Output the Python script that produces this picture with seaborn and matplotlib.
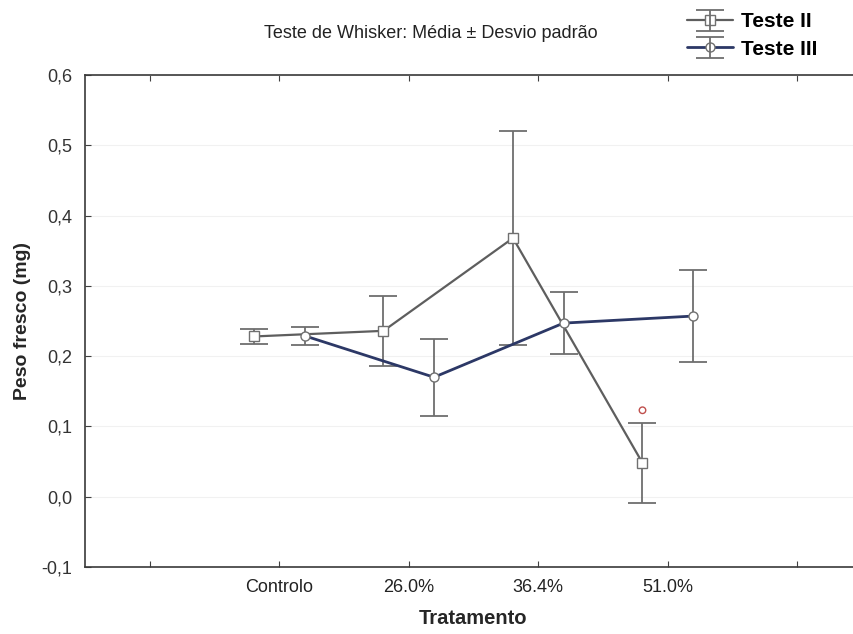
import numpy as np
import pandas as pd
import matplotlib
matplotlib.use("Agg")
import matplotlib.pyplot as plt
import seaborn as sns
from matplotlib.ticker import FixedLocator, FuncFormatter

# Dados (média e desvio padrão)
tratamentos = ["Controlo", "26.0%", "36.4%", "51.0%"]
media_ii = [0.228, 0.236, 0.368, 0.048]
dp_ii = [0.011, 0.050, 0.152, 0.057]
media_iii = [0.229, 0.170, 0.247, 0.257]
dp_iii = [0.013, 0.055, 0.044, 0.066]
outlier_ii = [np.nan, np.nan, np.nan, 0.123]
y_ticks = [-0.1, 0.0, 0.1, 0.2, 0.3, 0.4, 0.5, 0.6]

sns.set_style("ticks")
plt.rcParams["font.family"] = ["Liberation Sans", "DejaVu Sans"]

fig = plt.figure(figsize=(8.54, 6.34), dpi=100)
ax = fig.add_axes([85 / 854, 1 - 567 / 634, (862 - 85) / 854, (567 - 75) / 634])

posicoes = np.arange(1, len(tratamentos) + 1)
desvio = 0.195

series = [
    ("Teste II", media_ii, dp_ii, -desvio, "s", "#5e5e5e", 1.6, 7),
    ("Teste III", media_iii, dp_iii, desvio, "o", "#2c3866", 2.0, 6.5),
]

handles = []
for nome, media, dp, off, marca, cor, lw, ms in series:
    df = pd.DataFrame({"x": posicoes + off, "media": media})
    eb = ax.errorbar(df["x"], df["media"], yerr=dp, fmt="none", ecolor="#6e6e6e",
                     elinewidth=1.3, capsize=10, capthick=1.3, zorder=1.5)
    sns.lineplot(data=df, x="x", y="media", color=cor, lw=lw, marker=marca,
                 markersize=ms, markerfacecolor="white", markeredgecolor="#707070",
                 markeredgewidth=1.0, ax=ax, legend=False, zorder=3)
    handles.append((ax.lines[-1], eb))

# ponto isolado (Teste II, 51.0%)
df_out = pd.DataFrame({"x": posicoes - desvio, "y": outlier_ii}).dropna()
sns.scatterplot(data=df_out, x="x", y="y", ax=ax, s=22, facecolor="none",
                edgecolor="#c0504d", linewidth=1.0, zorder=4)

ax.set_xlim(-0.5, 5.5)
ax.set_ylim(-0.1, 0.6)
ax.xaxis.set_major_locator(FixedLocator(range(0, 6)))
ax.set_xticklabels([""] + tratamentos + [""])
ax.set_yticks(y_ticks)
ax.yaxis.set_major_formatter(FuncFormatter(lambda v, p: f"{v:.1f}".replace(".", ",")))
ax.yaxis.grid(True, color="#f1f1f1", lw=0.8)
ax.tick_params(axis="x", which="both", direction="in", top=True, length=4,
               pad=9, labelsize=13, color="#404040", labelcolor="#222222")
ax.tick_params(axis="y", direction="in", length=4, pad=9, labelsize=13,
               color="#404040", labelcolor="#333333")
for s in ax.spines.values():
    s.set_color("#3a3a3a")
    s.set_linewidth(1.2)

ax.set_xlabel("Tratamento", fontsize=14.5, fontweight="bold", labelpad=9)
ax.set_ylabel("Peso fresco (mg)", fontsize=14, fontweight="bold", labelpad=8)

fig.text(431 / 854, 1 - 33 / 634, "Teste de Whisker: Média ± Desvio padrão",
         ha="center", va="center", fontsize=13, color="#222222")

leg = fig.legend(handles, ["Teste II", "Teste III"], loc="upper left",
                 bbox_to_anchor=(677 / 854, 1 - 2 / 634), frameon=False, borderpad=0,
                 prop={"weight": "bold", "size": 15}, handlelength=2.2,
                 handletextpad=0.35, labelspacing=0.4)
for t in leg.get_texts():
    t.set_color("black")

fig.savefig("out.png", dpi=100)
